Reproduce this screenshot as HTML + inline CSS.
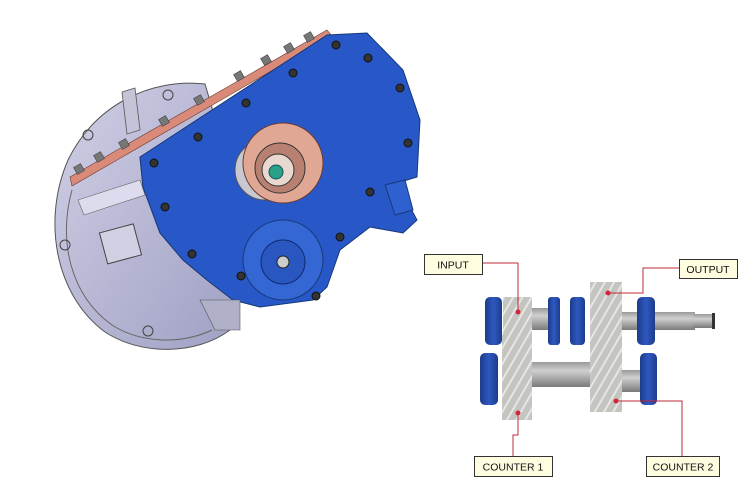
<!DOCTYPE html>
<html><head><meta charset="utf-8"><style>
html,body{margin:0;padding:0;background:#fff;}
svg{display:block}
.lbl{font-family:"Liberation Sans",sans-serif;font-size:10.5px;fill:#111;}
</style></head><body>
<svg width="751" height="501" viewBox="0 0 751 501" xmlns="http://www.w3.org/2000/svg">
<defs>
<linearGradient id="gr" x1="0" y1="0" x2="1" y2="1"><stop offset="0" stop-color="#d0d0e6"/><stop offset="1" stop-color="#a0a0c4"/></linearGradient>
<linearGradient id="sh" x1="0" y1="0" x2="0" y2="1"><stop offset="0" stop-color="#9a9a9a"/><stop offset=".35" stop-color="#d0d0d0"/><stop offset="1" stop-color="#7a7a7a"/></linearGradient>
<linearGradient id="bl" x1="0" y1="0" x2="1" y2="0"><stop offset="0" stop-color="#1c3c8c"/><stop offset=".5" stop-color="#2f58c0"/><stop offset="1" stop-color="#1c3c8c"/></linearGradient>
<pattern id="gt" width="8" height="8" patternUnits="userSpaceOnUse" patternTransform="rotate(30)"><rect width="8" height="8" fill="#c4c4c0"/><rect width="2" height="8" fill="#e6e6e2"/></pattern>
</defs>
<!-- grey housing -->
<path d="M140,157 L215,118 L205,84 C150,78 95,105 68,160 C42,220 55,295 105,332 C140,355 195,356 230,330 L233,300 L207,280 L183,260 L160,233 L143,187 Z" fill="url(#gr)" stroke="#555" stroke-width="1"/>
<path d="M72,190 C58,240 70,295 112,325 C140,343 180,345 212,330" fill="none" stroke="#666" stroke-width="1"/>
<path d="M78,200 L140,180 L145,195 L84,215 Z" fill="#dcdcee" stroke="#666" stroke-width=".6"/>
<rect x="103" y="228" width="35" height="32" fill="#d0d0e2" stroke="#444" transform="rotate(-15 120 244)"/>
<path d="M122,92 L135,88 L140,130 L127,134 Z" fill="#c4c4d8" stroke="#555" stroke-width=".8"/>
<circle cx="88" cy="135" r="5" fill="none" stroke="#444"/><circle cx="65" cy="245" r="5" fill="none" stroke="#444"/><circle cx="148" cy="331" r="5" fill="none" stroke="#444"/><circle cx="168" cy="95" r="5" fill="none" stroke="#444"/>
<!-- copper strip -->
<path d="M70,177 L327,30 L332,36 L72,186 Z" fill="#d98a78" stroke="#6a3a30" stroke-width=".6"/>
<g fill="#777" stroke="#333" stroke-width=".5">
<rect x="75" y="165" width="8" height="8" transform="rotate(-30 79 169)"/><rect x="95" y="153" width="8" height="8" transform="rotate(-30 99 157)"/><rect x="120" y="140" width="8" height="8" transform="rotate(-30 124 144)"/><rect x="160" y="117" width="8" height="8" transform="rotate(-30 164 121)"/><rect x="195" y="96" width="8" height="8" transform="rotate(-30 199 100)"/><rect x="235" y="72" width="8" height="8" transform="rotate(-30 239 76)"/><rect x="262" y="56" width="8" height="8" transform="rotate(-30 266 60)"/><rect x="285" y="44" width="8" height="8" transform="rotate(-30 289 48)"/><rect x="305" y="33" width="8" height="8" transform="rotate(-30 309 37)"/>
</g>
<!-- blue plate -->
<path d="M140,157 L327,35 L367,33 L403,70 L420,120 L417,177 L397,183 L417,220 L403,233 L370,227 L340,250 L327,287 L313,300 L260,307 L233,300 L207,280 L183,260 L160,233 L143,187 Z" fill="#2858c8" stroke="#183878" stroke-width="1"/>
<path d="M200,300 L240,300 L240,330 L215,330 Z" fill="#b0b0c8" stroke="#555" stroke-width=".6"/>
<path d="M385,185 L405,180 L413,210 L395,215 Z" fill="#2f60d0" stroke="#183878"/>
<!-- flange -->
<circle cx="265" cy="170" r="30" fill="#c8c8d0" stroke="#555"/>
<circle cx="283" cy="163" r="40" fill="#e0a894" stroke="#6a3a30"/>
<circle cx="280" cy="168" r="25" fill="#b88070" stroke="#333"/>
<circle cx="278" cy="170" r="16" fill="#e8d8d0" stroke="#333"/>
<circle cx="276" cy="172" r="7" fill="#2aa088" stroke="#155"/>
<!-- pump -->
<circle cx="283" cy="260" r="40" fill="#3466d4" stroke="#183878"/>
<circle cx="283" cy="262" r="22" fill="#2a56c0" stroke="#102a70"/>
<circle cx="283" cy="262" r="6" fill="#ccc" stroke="#222"/>
<!-- bolts -->
<g fill="#333" stroke="#111">
<circle cx="336" cy="45" r="4"/><circle cx="368" cy="58" r="4"/><circle cx="400" cy="88" r="4"/><circle cx="408" cy="143" r="4"/><circle cx="293" cy="73" r="4"/><circle cx="246" cy="103" r="4"/><circle cx="198" cy="137" r="4"/><circle cx="154" cy="163" r="4"/><circle cx="165" cy="207" r="4"/><circle cx="192" cy="254" r="4"/><circle cx="241" cy="276" r="4"/><circle cx="316" cy="296" r="4"/><circle cx="340" cy="237" r="4"/><circle cx="370" cy="192" r="4"/>
</g>
<!-- gears: upper row -->
<rect x="532" y="308" width="18" height="22" fill="url(#sh)"/>
<rect x="620" y="312" width="75" height="18" fill="url(#sh)"/>
<rect x="693" y="314" width="20" height="14" fill="url(#sh)"/>
<rect x="712" y="313" width="3" height="16" fill="#333"/>
<rect x="485" y="297" width="17" height="48" rx="5" fill="url(#bl)"/>
<rect x="503" y="297" width="29" height="48" fill="url(#gt)"/>
<rect x="548" y="297" width="12" height="48" rx="3" fill="url(#bl)"/>
<rect x="570" y="297" width="15" height="48" rx="4" fill="url(#bl)"/>
<rect x="637" y="297" width="18" height="48" rx="5" fill="url(#bl)"/>
<!-- lower row -->
<rect x="530" y="362" width="64" height="25" fill="url(#sh)"/>
<rect x="620" y="370" width="22" height="22" fill="url(#sh)"/>
<rect x="480" y="353" width="18" height="52" rx="5" fill="url(#bl)"/>
<rect x="502" y="335" width="30" height="85" fill="url(#gt)"/>
<rect x="590" y="282" width="32" height="130" fill="url(#gt)"/>
<rect x="640" y="353" width="17" height="52" rx="5" fill="url(#bl)"/>
<!-- leader lines -->
<g fill="none" stroke="#c0283a" stroke-width="1">
<polyline points="482,263 518,263 518,312"/>
<polyline points="679,268 643,268 643,293 608,293"/>
<polyline points="518,413 518,435 513,435 513,456"/>
<polyline points="616,401 682,401 682,456"/>
</g>
<g fill="#d0283a"><circle cx="518" cy="312" r="2.5"/><circle cx="608" cy="293" r="2.5"/><circle cx="518" cy="413" r="2.5"/><circle cx="616" cy="401" r="2.5"/></g>
<!-- labels -->
<g fill="#fffde0" stroke="#333" stroke-width="1">
<rect x="424.5" y="254.5" width="58" height="20"/>
<rect x="679.5" y="259.5" width="58" height="19"/>
<rect x="474.5" y="456.5" width="78" height="20"/>
<rect x="646.5" y="456.5" width="73" height="20"/>
</g>
<text class="lbl" x="453" y="268.5" text-anchor="middle">INPUT</text>
<text class="lbl" x="708" y="273" text-anchor="middle">OUTPUT</text>
<text class="lbl" x="513" y="470.5" text-anchor="middle">COUNTER 1</text>
<text class="lbl" x="683" y="470.5" text-anchor="middle">COUNTER 2</text>
</svg>
</body></html>
